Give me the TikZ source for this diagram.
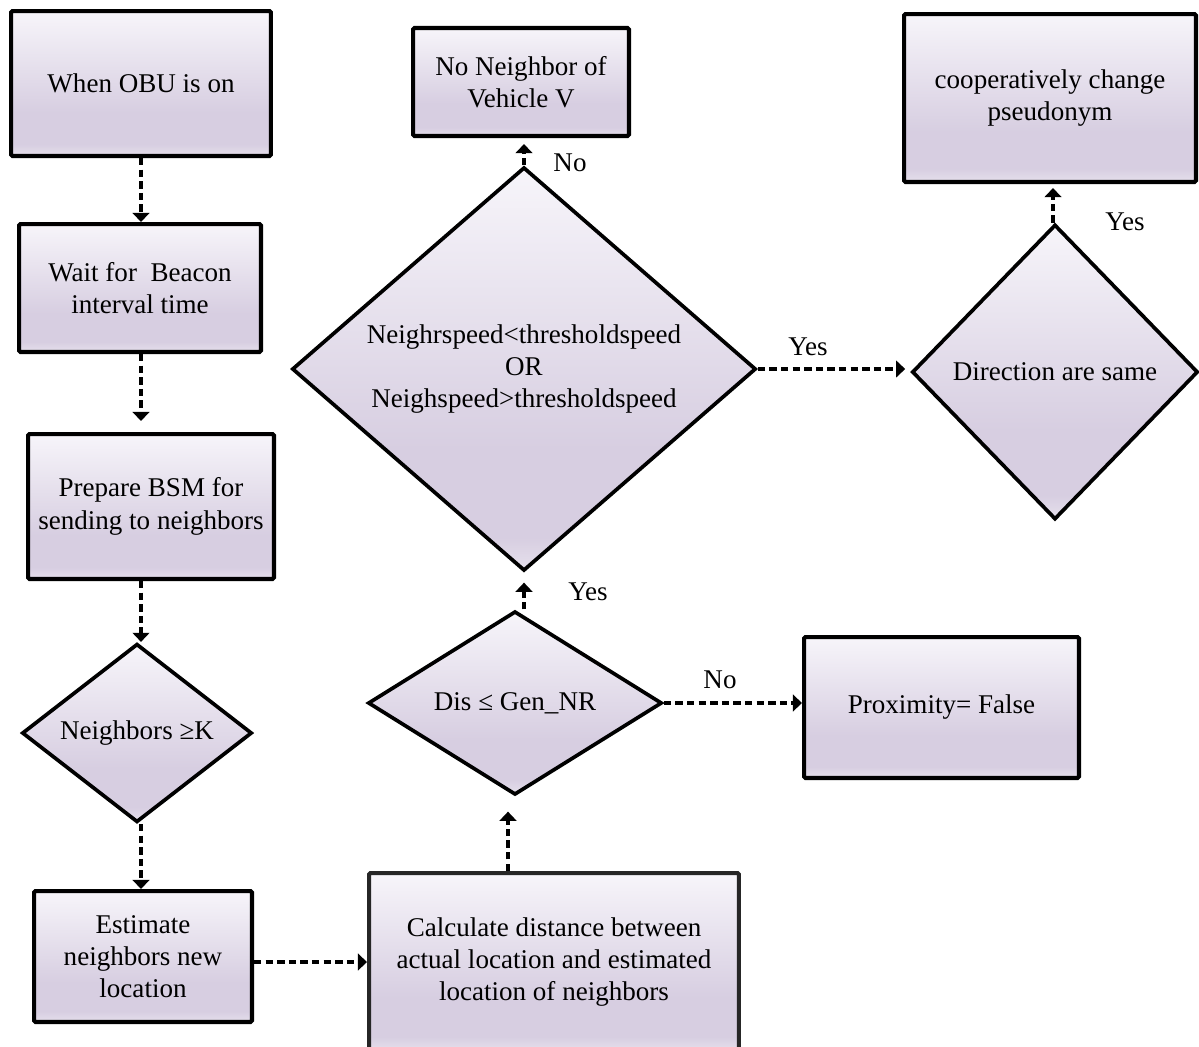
\documentclass[tikz,border=0pt]{standalone}
\usepackage{fontspec}
\setmainfont{Liberation Serif}
\usetikzlibrary{shapes.geometric,arrows.meta}

% lavender fill: light at the top, darker towards the bottom, a lighter rim at the base
\definecolor{lavtop}{HTML}{F7F5FA}
\definecolor{lavmid}{HTML}{D7CEE1}
\definecolor{lavbot}{HTML}{E6E0EC}
\pgfdeclareverticalshading{lavender}{100bp}{color(0bp)=(lavbot); color(25bp)=(lavbot); color(29bp)=(lavmid); color(40bp)=(lavmid); color(75bp)=(lavtop); color(100bp)=(lavtop)}

\begin{document}
\begin{tikzpicture}[x=0.02cm,y=-0.02cm,
  font=\fontsize{15.4}{18.4}\selectfont,
  procbox/.style={rectangle, draw=black, line width=2.3pt, shading=lavender,
    rounded corners=0.8pt, inner sep=0pt, align=center},
  decision/.style={diamond, draw=black, line width=2.1pt, shading=lavender,
    inner sep=0pt, align=center},
  flow/.style={line width=2.4pt, dash pattern=on 4.2pt off 2.4pt,
    -{Triangle[width=9.5pt,length=5.2pt]}},
  lbl/.style={inner sep=0pt}]

\useasboundingbox (0,0) rectangle (1199,1046);

% left column
\node[procbox, minimum width=5.2cm, minimum height=2.9cm] (b1) at (141,83.5) {When OBU is on};
\node[procbox, minimum width=4.84cm, minimum height=2.56cm] (b2) at (140,288) {Wait for~ Beacon\\interval time};
\node[procbox, minimum width=4.92cm, minimum height=2.9cm] (b3) at (151,506.5) {Prepare BSM for\\sending to neighbors};
\node[decision, minimum width=4.6cm, minimum height=3.5cm] (d1) at (137,733) {Neighbors ≥K};
\node[procbox, minimum width=4.36cm, minimum height=2.62cm] (est) at (143,956.5) {Estimate\\neighbors new\\location};

% middle column
\node[procbox, draw=black!85, minimum width=7.4cm, minimum height=3.56cm] (calc) at (554,962) {Calculate distance between\\actual location and estimated\\location of neighbors};
\node[decision, minimum width=5.88cm, minimum height=3.5cm] (dis) at (515,703) {Dis ≤ Gen\_NR};
\node[decision, minimum width=9.28cm, minimum height=7.24cm] (big) at (524,369) {Neighrspeed<thresholdspeed\\OR\\Neighspeed>thresholdspeed};
\node[procbox, minimum width=4.32cm, minimum height=2.16cm] (none) at (521,82) {No Neighbor of\\Vehicle V};

% right column
\node[procbox, minimum width=5.5cm, minimum height=2.82cm] (prox) at (941.5,707.5) {Proximity= False};
\node[decision, minimum width=5.72cm, minimum height=5.9cm] (dir) at (1055,372) {Direction are same};
\node[procbox, minimum width=5.84cm, minimum height=3.36cm] (coop) at (1050,98) {cooperatively change\\pseudonym};

% connectors
\draw[flow] (b1.south) -- (b2.north -| b1.south);
\draw[flow] (b2.south -| b1.south) -- ([yshift=0.22cm]b3.north -| b1.south);
\draw[flow] (b3.south -| b1.south) -- (d1.north -| b1.south);
\draw[flow] (d1.south -| b1.south) -- (est.north -| b1.south);
\draw[flow] (est.east |- calc.west) -- (calc.west);
\draw[flow] ([xshift=-0.14cm]dis.south |- calc.north) -- ([xshift=-0.14cm,yshift=-0.3cm]dis.south);
\draw[flow] (big.south |- dis.north) -- ([yshift=-0.2cm]big.south);
\draw[flow] (big.north) -- ([yshift=-0.12cm]none.south -| big.north);
\draw[flow] (big.east) -- ([xshift=-0.1cm]dir.west |- big.east);
\draw[flow] (dis.east) -- (prox.west |- dis.east);
\draw[flow] ([xshift=-0.04cm]dir.north) -- ([xshift=-0.04cm,yshift=-0.08cm]coop.south -| dir.north);

% branch labels
\node[lbl] (lno1) at (570,163) {No};
\node[lbl] (lyes1) at (808,347) {Yes};
\node[lbl] (lyes2) at (1125,222) {Yes};
\node[lbl] (lyes3) at (588,592) {Yes};
\node[lbl] (lno2) at (720,680) {No};

\end{tikzpicture}
\end{document}
